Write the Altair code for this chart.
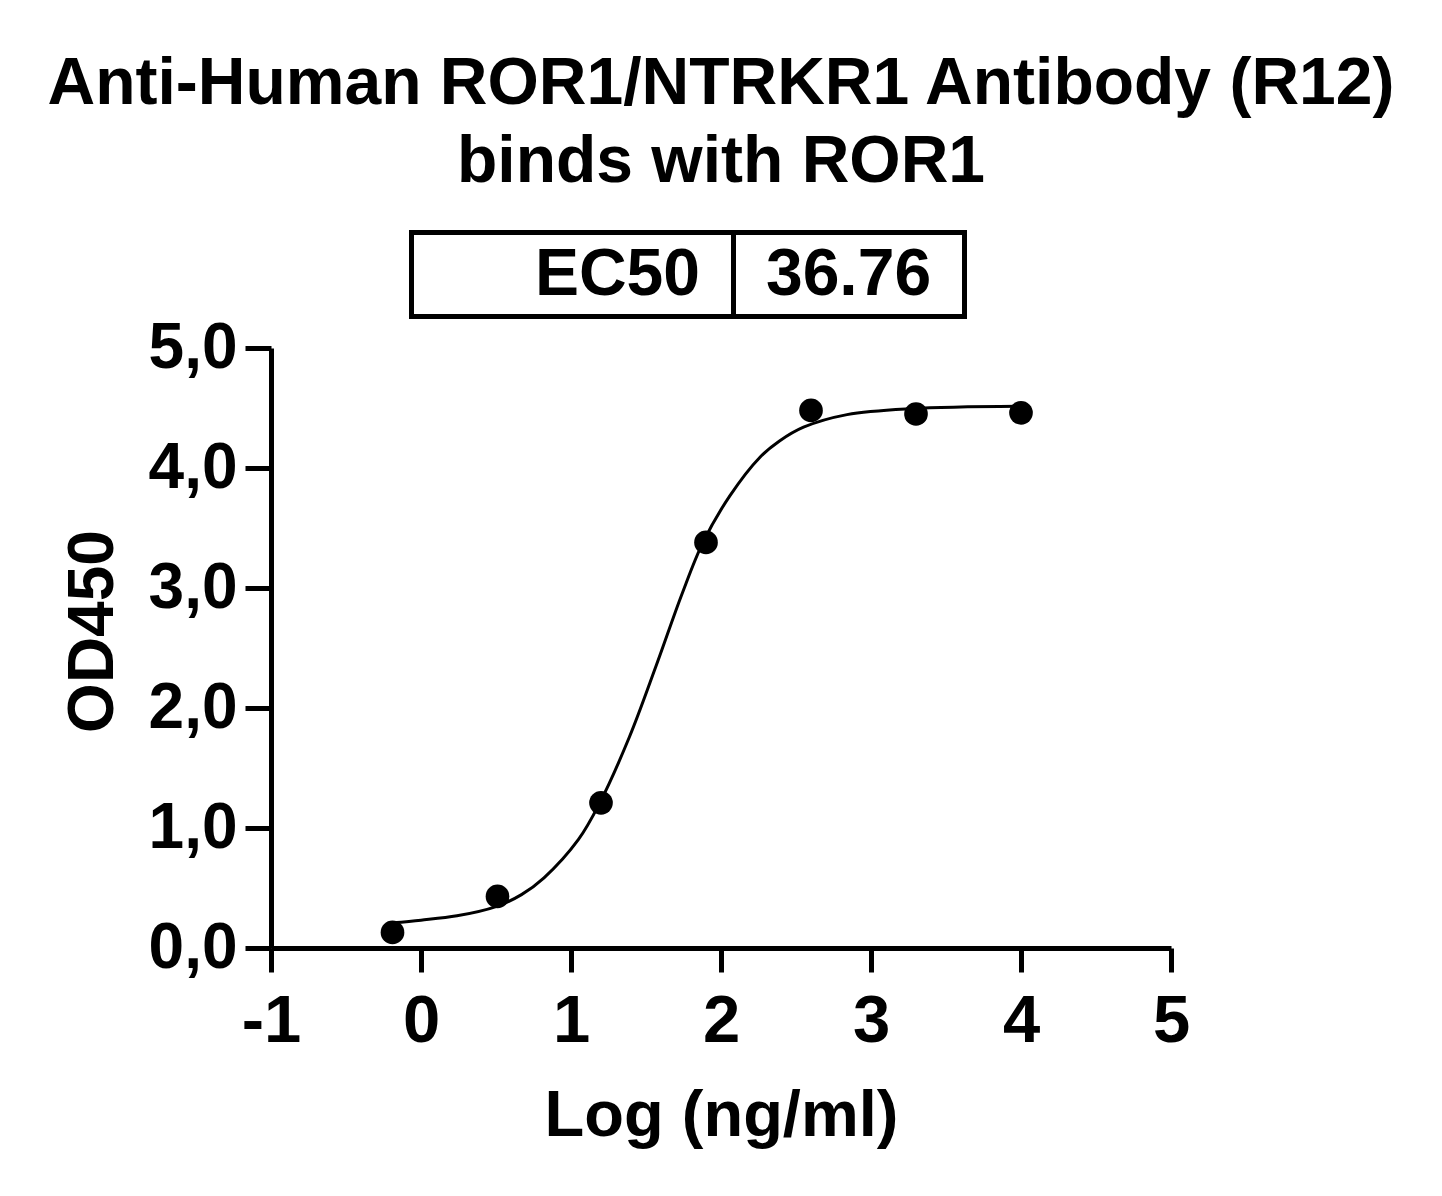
import altair as alt
import pandas as pd

FONT = "Liberation Sans"

title_lines = ["Anti-Human ROR1/NTRKR1 Antibody (R12)", "binds with ROR1"]
table_labels = ["EC50"]
table_values = ["36.76"]

# measured points: log10 concentration (ng/ml) vs OD450
dose_log = [-0.19, 0.51, 1.20, 1.90, 2.60, 3.30, 4.00]
od450 = [0.13, 0.43, 1.21, 3.38, 4.48, 4.45, 4.46]

# fitted curve
curve_log = [-0.19, 0.00, 0.24, 0.50, 0.67, 0.82, 1.05, 1.19, 1.39, 1.57,
             1.74, 1.88, 2.06, 2.26, 2.39, 2.55, 2.84, 3.27, 4.00]
curve_od = [0.21, 0.232, 0.268, 0.345, 0.445, 0.585, 0.905, 1.205, 1.76, 2.36,
            2.95, 3.38, 3.77, 4.09, 4.225, 4.34, 4.445, 4.495, 4.515]

x_ticks = [-1, 0, 1, 2, 3, 4, 5]
y_ticks = [0, 1, 2, 3, 4, 5]

pts = pd.DataFrame({"x": dose_log, "y": od450})
crv = pd.DataFrame({"x": curve_log, "y": curve_od})
tbl = pd.DataFrame({"label": table_labels, "value": table_values})

xscale = alt.Scale(domain=[x_ticks[0], x_ticks[-1]], nice=False, zero=False)
yscale = alt.Scale(domain=[y_ticks[0], y_ticks[-1]], nice=False, zero=False)

xaxis = alt.Axis(
    values=x_ticks, title="Log (ng/ml)", labelExpr="'' + datum.value",
    grid=False, domainWidth=5, domainColor="black", tickWidth=5, tickColor="black",
    tickSize=24, labelFont=FONT, labelFontSize=67, labelFontWeight="bold",
    labelColor="black", labelPadding=16, labelFlush=False, labelOverlap=False,
    titleFont=FONT, titleFontSize=65, titleFontWeight="bold", titleColor="black",
    titleBaseline="alphabetic", titleAlign="center", titleX=450, titleY=187,
)
yaxis = alt.Axis(
    values=y_ticks, title="OD450",
    labelExpr="replace(format(datum.value, '.1f'), '.', ',')",
    grid=False, domainWidth=5, domainColor="black", tickWidth=5, tickColor="black",
    tickSize=26, labelFont=FONT, labelFontSize=64, labelFontWeight="bold",
    labelColor="black", labelPadding=8, labelFlush=False, labelOverlap=False,
    titleFont=FONT, titleFontSize=64, titleFontWeight="bold", titleColor="black",
    titleBaseline="alphabetic", titleAlign="center", titleAngle=270,
    titleX=-159, titleY=283,
)

curve = alt.Chart(crv).mark_line(color="black", strokeWidth=3, interpolate="catmull-rom").encode(
    x=alt.X("x:Q", scale=xscale, axis=xaxis),
    y=alt.Y("y:Q", scale=yscale, axis=yaxis),
)
points = alt.Chart(pts).mark_circle(size=560, color="black", opacity=1).encode(
    x=alt.X("x:Q", scale=xscale),
    y=alt.Y("y:Q", scale=yscale),
)

box = alt.Chart(tbl).mark_rect(fill="white", stroke="black", strokeWidth=5).encode(
    x=alt.value(140.5), x2=alt.value(693.5), y=alt.value(-115.5), y2=alt.value(-31.5)
)
divider = alt.Chart(tbl).mark_rule(color="black", strokeWidth=5).encode(
    x=alt.value(462.5), y=alt.value(-115.5), y2=alt.value(-31.5)
)
lab = alt.Chart(tbl).mark_text(
    align="right", baseline="alphabetic", font=FONT, fontSize=66, fontWeight="bold", color="black"
).encode(x=alt.value(429), y=alt.value(-53), text="label:N")
val = alt.Chart(tbl).mark_text(
    align="center", baseline="alphabetic", font=FONT, fontSize=66, fontWeight="bold", color="black"
).encode(x=alt.value(577.5), y=alt.value(-53), text="value:N")

chart = alt.layer(curve, points, box, divider, lab, val).properties(
    width=900,
    height=600,
    background="white",
    title=alt.TitleParams(
        text=title_lines, font=FONT, fontSize=66, fontWeight="bold", color="black",
        lineHeight=78, anchor="middle", offset=34,
    ),
    autosize=alt.AutoSizeParams(type="none"),
    padding={"left": 263, "top": 340, "right": 240, "bottom": 220},
).configure_view(strokeWidth=0, stroke=None)

chart.save("out.html", embed_options={"renderer": "svg", "actions": False})
